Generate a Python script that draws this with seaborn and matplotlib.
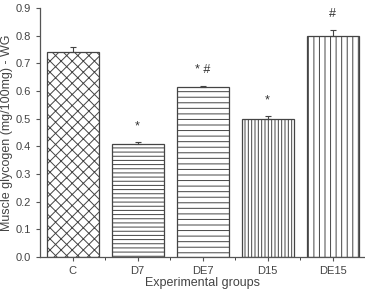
import matplotlib
matplotlib.use("Agg")
import matplotlib.pyplot as plt
import pandas as pd
import seaborn as sns

groups = ["C", "D7", "DE7", "D15", "DE15"]
glycogen = [0.74, 0.41, 0.615, 0.50, 0.80]
sem = [0.02, 0.007, 0.004, 0.01, 0.02]
marks = ["", "*", "* #", "*", "#"]
hatches = ["xxx", "----", "---", "|||||", "|||"]

df = pd.DataFrame({"group": groups, "glycogen": glycogen})

sns.set_style("ticks")
plt.rcParams["font.family"] = ["Liberation Sans", "DejaVu Sans"]
plt.rcParams["hatch.color"] = "#555555"
plt.rcParams["hatch.linewidth"] = 0.7

fig = plt.figure(figsize=(3.65, 2.92), dpi=100)
ax = fig.add_axes([40 / 365, 35 / 292, 325 / 365, 249 / 292])

sns.barplot(data=df, x="group", y="glycogen", color="white", width=0.8,
            edgecolor="#444444", linewidth=0.9, errorbar=None, ax=ax)

for bar, h in zip(ax.patches, hatches):
    bar.set_hatch(h)

xs = [b.get_x() + b.get_width() / 2 for b in ax.patches]
ax.errorbar(xs, glycogen, yerr=[[0] * len(sem), sem], fmt="none",
            ecolor="#444444", elinewidth=0.8, capsize=2.5, capthick=0.8)

for x, y, e, m in zip(xs, glycogen, sem, marks):
    if m:
        ax.text(x, y + e + 0.035, m, ha="center", va="bottom",
                fontsize=9, color="#333333")

ax.set_xlim(-0.5, 4.5)
ax.set_ylim(0, 0.9)
ax.set_yticks([i / 10 for i in range(10)])
ax.set_yticklabels([f"{i / 10:.1f}" for i in range(10)])
ax.set_xticks([0.5, 1.5, 2.5, 3.5], minor=True)
ax.tick_params(axis="both", labelsize=8, colors="#555555", length=3, width=0.8)
ax.tick_params(axis="x", which="minor", length=2)
for t in ax.get_xticklabels() + ax.get_yticklabels():
    t.set_color("#444444")
ax.set_xlabel("Experimental groups", fontsize=9, color="#444444")
ax.set_ylabel("Muscle glycogen (mg/100mg) - WG", fontsize=9, color="#444444")
ax.xaxis.set_label_coords(0.5, -0.08)
ax.yaxis.set_label_coords(-0.082, 0.5)
sns.despine(ax=ax)
for s in ["left", "bottom"]:
    ax.spines[s].set_color("#555555")
    ax.spines[s].set_linewidth(0.9)

fig.savefig("out.png", dpi=100)
